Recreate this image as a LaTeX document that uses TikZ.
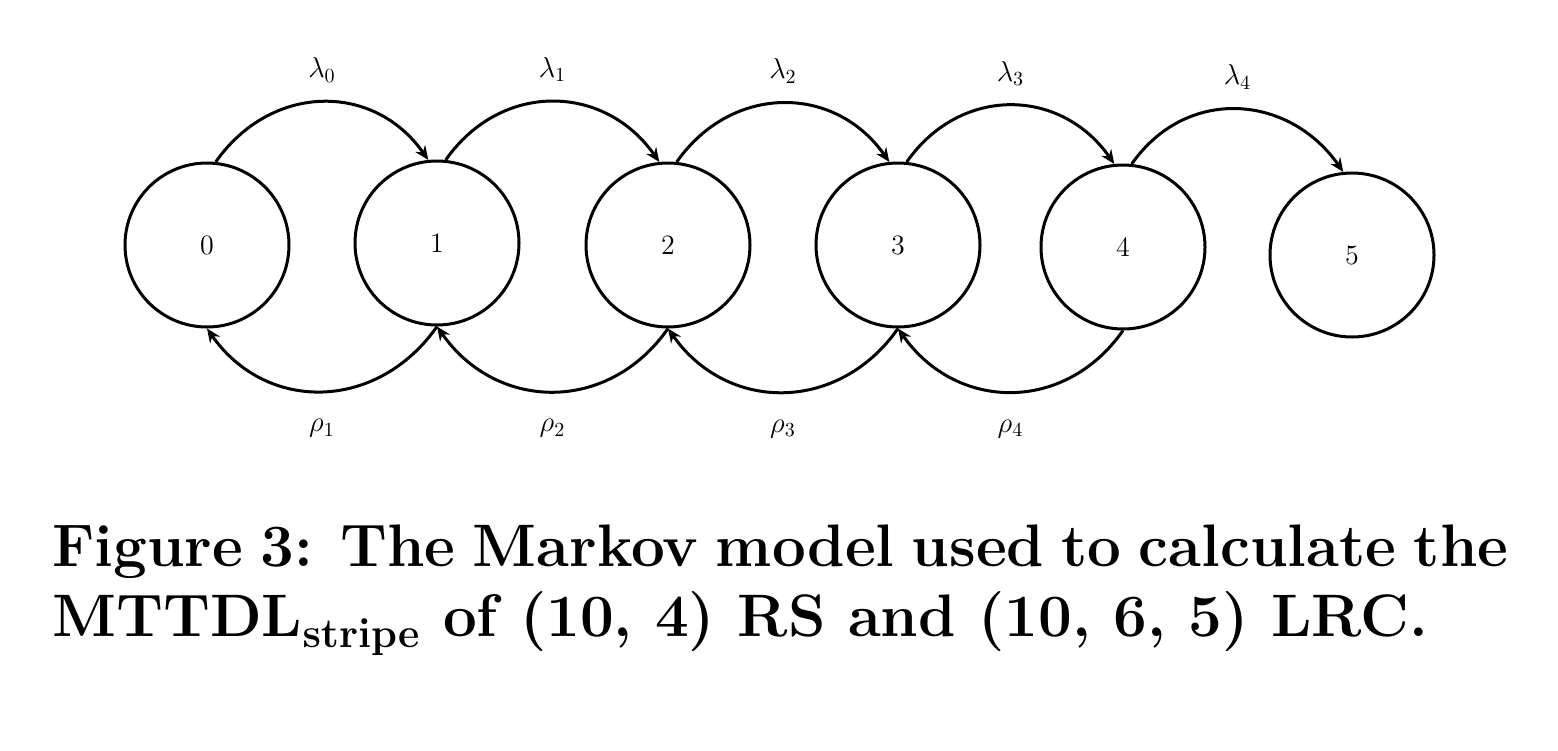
\documentclass[tikz,border=0pt]{standalone}
\usetikzlibrary{arrows.meta}
\begin{document}
\begin{tikzpicture}[x=0.5pt,y=-0.5pt,
 st/.style={circle,draw,line width=1.5pt,minimum size=82pt,inner sep=0pt,font=\fontsize{14}{16}\selectfont},
 ar/.style={line width=1.5pt,-{Stealth[length=7pt,width=6pt]}},
 lb/.style={font=\fontsize{14}{16}\selectfont}]
\useasboundingbox (0,0) rectangle (1558,750);
\node[st] (n0) at (207,245) {0};
\node[st] (n1) at (437,243) {1};
\node[st] (n2) at (668,245) {2};
\node[st] (n3) at (898,245) {3};
\node[st] (n4) at (1123,247) {4};
\node[st] (n5) at (1352,255) {5};
\foreach \a/\b/\i in {n0/n1/0,n1/n2/1,n2/n3/2,n3/n4/3,n4/n5/4}{
 \draw[ar] (\a.84) to[out=55,in=125,looseness=1.15] node[lb,pos=0.5,above=6pt] {$\lambda_{\i}$} (\b.96);
}
\foreach \a/\b/\i in {n1/n0/1,n2/n1/2,n3/n2/3,n4/n3/4}{
 \draw[ar] (\a.-90) to[out=-125,in=-55,looseness=1.15] node[lb,pos=0.5,below=10pt] {$\rho_{\i}$} (\b.-90);
}
\node[anchor=north west,text width=728pt,align=justify,inner sep=0pt,font=\fontsize{30}{35}\selectfont\bfseries\boldmath] (cap) at (52,524)
{Figure 3: The Markov model used to calculate the MTTDL$_{\mathbf{stripe}}$ of (10, 4) RS and (10, 6, 5) LRC.};
\end{tikzpicture}
\end{document}
